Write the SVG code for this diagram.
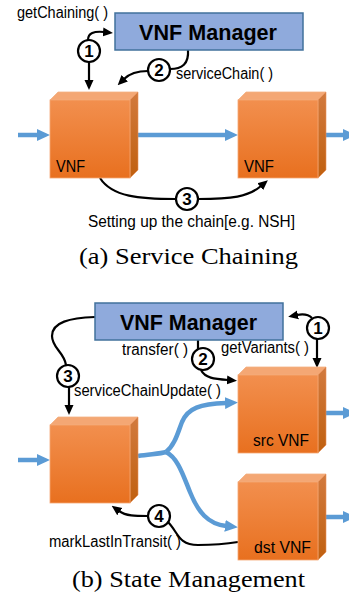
<svg xmlns="http://www.w3.org/2000/svg" xmlns:xlink="http://www.w3.org/1999/xlink" width="349" height="596" viewBox="0 0 349 596">
<style>
.lbl{font-family:"Liberation Sans",Arial,sans-serif;font-size:16px;fill:#000}
.mgr{fill:#8faadc;stroke:#41719c;stroke-width:1.5}
.mgrt{font-family:"Liberation Sans",Arial,sans-serif;font-weight:bold;font-size:22px;fill:#000}
.num{font-family:"Liberation Sans",Arial,sans-serif;font-weight:bold;font-size:17px;fill:#000;text-anchor:middle}
.circ{fill:#fff;stroke:#000;stroke-width:2.2}
.blk{fill:none;stroke:#000;stroke-width:2.2}
.blu{fill:none;stroke:#5b9bd5;stroke-width:4.5}
.cap{font-family:"Liberation Serif","Times New Roman",serif;font-size:24px;fill:#000}
</style>
<defs>
<linearGradient id="gf" x1="0" y1="0" x2="0" y2="1">
<stop offset="0" stop-color="#f28f4e"/><stop offset="1" stop-color="#e8701f"/>
</linearGradient>
<linearGradient id="gs" x1="0" y1="0" x2="0" y2="1">
<stop offset="0" stop-color="#d27a3e"/><stop offset="1" stop-color="#c0600f"/>
</linearGradient>
<g id="cube">
<polygon points="0,0 8,-8 88,-8 80,0" fill="#f4a774" stroke="#f4b183" stroke-width="0.8"/>
<polygon points="80,0 88,-8 88,70 80,78" fill="url(#gs)" stroke="#e8905a" stroke-width="0.6"/>
<rect x="0" y="0" width="80" height="78" fill="url(#gf)" stroke="#f4a774" stroke-width="0.8"/>
</g>
<marker id="ab" markerUnits="userSpaceOnUse" markerWidth="10" markerHeight="10" viewBox="0 0 10 9" refX="1" refY="4.5" orient="auto">
<path d="M0,0 L10,4.5 L0,9 z" fill="#000"/>
</marker>
<marker id="au" markerUnits="userSpaceOnUse" markerWidth="13" markerHeight="12" viewBox="0 0 13 12" refX="1" refY="6" orient="auto">
<path d="M0,0 L13,6 L0,12 z" fill="#5b9bd5"/>
</marker>
</defs>

<g id="connectors">
<path class="blu" d="M18,135 L38,135" marker-end="url(#au)"/>
<path class="blu" d="M138,135 L226,135" marker-end="url(#au)"/>
<path class="blu" d="M326,135 L344,135" marker-end="url(#au)"/>
<path class="blk" d="M89,62 L89,81" marker-end="url(#ab)"/>
<path class="blk" d="M88,40 C88,33 94,31 104,32" marker-end="url(#ab)"/>
<path class="blk" d="M188,50 C189,64 182,69 170,69"/>
<path class="blk" d="M148,71 C138,71 130,73 124,79" marker-end="url(#ab)"/>
<path class="blk" d="M100,178 C112,197 140,199 176,199"/>
<path class="blk" d="M198,199 C232,199 248,197 261,186" marker-end="url(#ab)"/>
<path class="blu" d="M18,460 L38,460" marker-end="url(#au)"/>
<path class="blu" d="M138,456 C150,454 160,454 166,452"/>
<path class="blu" d="M166,452 C175,445 178,432 182,422 C188,408 200,404 226,403" marker-end="url(#au)"/>
<path class="blu" d="M166,452 C178,458 183,475 190,492 C198,512 208,524 226,526" marker-end="url(#au)"/>
<path class="blu" d="M326,413 L344,413" marker-end="url(#au)"/>
<path class="blu" d="M326,517 L344,517" marker-end="url(#au)"/>
<path class="blk" d="M312,318 C308,314 302,314 297,315" marker-end="url(#ab)"/>
<path class="blk" d="M317,339 L317,359" marker-end="url(#ab)"/>
<path class="blk" d="M198,340 L198,350"/>
<path class="blk" d="M201,370 C205,378 214,379 228,380" marker-end="url(#ab)"/>
<path class="blk" d="M95,317 C70,318 52,322 52,336 C52,348 64,352 66,365"/>
<path class="blk" d="M69,387 L69,406" marker-end="url(#ab)"/>
<path class="blk" d="M148,516 C135,516 126,516 119,511" marker-end="url(#ab)"/>
<path class="blk" d="M168,522 C178,532 178,545 198,545 C220,545 232,543 238,542"/>
</g>

<g id="mgrA">
<rect class="mgr" x="115" y="13" width="188" height="37"/>
<text class="mgrt" x="139" y="40" textLength="138" lengthAdjust="spacingAndGlyphs">VNF Manager</text>
</g>
<g id="vnfA1">
<use xlink:href="#cube" x="50" y="100"/>
<text class="lbl" x="56" y="172" font-size="17" textLength="29" lengthAdjust="spacingAndGlyphs">VNF</text>
</g>
<g id="vnfA2">
<use xlink:href="#cube" x="238" y="100"/>
<text class="lbl" x="244" y="172" font-size="17" textLength="30" lengthAdjust="spacingAndGlyphs">VNF</text>
</g>
<g id="stepA1"><circle class="circ" cx="89" cy="51" r="11"/><text class="num" x="89" y="57">1</text></g>
<g id="stepA2"><circle class="circ" cx="159" cy="70" r="11"/><text class="num" x="159" y="76">2</text></g>
<g id="stepA3"><circle class="circ" cx="187" cy="199" r="11"/><text class="num" x="187" y="205">3</text></g>
<text class="lbl" x="17" y="18" textLength="91" lengthAdjust="spacingAndGlyphs">getChaining( )</text>
<text class="lbl" x="176" y="79" textLength="97" lengthAdjust="spacingAndGlyphs">serviceChain( )</text>
<text class="lbl" x="88" y="227" textLength="207" lengthAdjust="spacingAndGlyphs">Setting up the chain[e.g. NSH]</text>
<text class="cap" x="79" y="264" textLength="219" lengthAdjust="spacingAndGlyphs">(a) Service Chaining</text>

<g id="mgrB">
<rect class="mgr" x="95" y="303" width="188" height="37"/>
<text class="mgrt" x="120" y="330" textLength="137" lengthAdjust="spacingAndGlyphs">VNF Manager</text>
</g>
<g id="vnfB">
<use xlink:href="#cube" x="50" y="425"/>
</g>
<g id="srcVNF">
<use xlink:href="#cube" x="238" y="375"/>
<text class="lbl" x="253" y="446" font-size="17" textLength="56" lengthAdjust="spacingAndGlyphs">src VNF</text>
</g>
<g id="dstVNF">
<use xlink:href="#cube" x="238" y="482"/>
<text class="lbl" x="254" y="553" font-size="17" textLength="57" lengthAdjust="spacingAndGlyphs">dst VNF</text>
</g>
<g id="stepB1"><circle class="circ" cx="318" cy="328" r="11"/><text class="num" x="318" y="334">1</text></g>
<g id="stepB2"><circle class="circ" cx="203" cy="359" r="11"/><text class="num" x="203" y="365">2</text></g>
<g id="stepB3"><circle class="circ" cx="68" cy="376" r="11"/><text class="num" x="68" y="382">3</text></g>
<g id="stepB4"><circle class="circ" cx="159" cy="516" r="11"/><text class="num" x="159" y="522">4</text></g>
<text class="lbl" x="122" y="355" textLength="66" lengthAdjust="spacingAndGlyphs">transfer( )</text>
<text class="lbl" x="221" y="353" textLength="88" lengthAdjust="spacingAndGlyphs">getVariants( )</text>
<text class="lbl" x="74" y="396" textLength="147" lengthAdjust="spacingAndGlyphs">serviceChainUpdate( )</text>
<text class="lbl" x="49" y="547" textLength="132" lengthAdjust="spacingAndGlyphs">markLastInTransit( )</text>
<text class="cap" x="72" y="587" textLength="233" lengthAdjust="spacingAndGlyphs">(b) State Management</text>
</svg>
